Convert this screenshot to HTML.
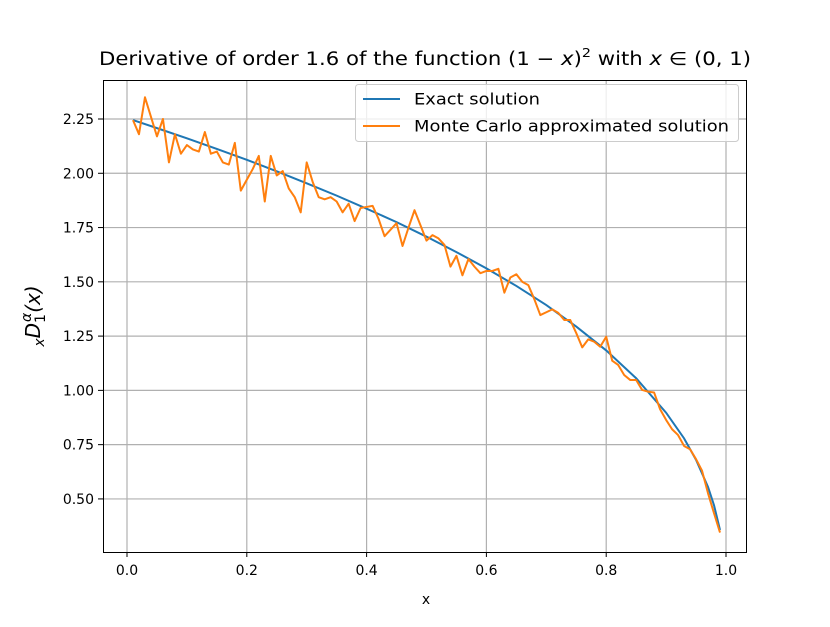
<!DOCTYPE html>
<html><head><meta charset="utf-8"><style>
body{margin:0;background:#fff;}
svg text{font-family:"DejaVu Sans","Liberation Sans",sans-serif;}
</style></head><body>
<svg width="830" height="622" viewBox="0 0 830 622" xmlns="http://www.w3.org/2000/svg">
<rect width="830" height="622" fill="#fff"/>
<g id="grid"></g>
<g id="ticks"></g>
<polyline id="exact" fill="none" stroke="#1f77b4" stroke-width="2"/>
<polyline id="mc" fill="none" stroke="#ff7f0e" stroke-width="2" stroke-linejoin="round"/>
<rect x="103.5" y="80.5" width="643" height="472" fill="none" stroke="#000" stroke-width="1"/>
<text x="425" y="65" font-size="18.5" text-anchor="middle" textLength="652" lengthAdjust="spacingAndGlyphs">Derivative of order 1.6 of the function (1 − <tspan font-style="italic">x</tspan>)<tspan font-size="12.5" dy="-8">2</tspan><tspan dy="8"> with </tspan><tspan font-style="italic">x</tspan> ∈ (0, 1)</text>
<text x="426" y="604" font-size="14" text-anchor="middle">x</text>
<text transform="translate(40,316) rotate(-90)" font-size="20" text-anchor="middle" font-style="italic"><tspan font-size="14" dy="4">x</tspan><tspan dy="-4">D</tspan><tspan font-size="14" dy="5" font-style="normal">1</tspan><tspan font-size="14" dy="-14" dx="-8">α</tspan><tspan dy="9">(x)</tspan></text>
<g>
<rect x="355.5" y="84.5" width="383" height="57" rx="3" fill="#fff" fill-opacity="0.8" stroke="#ccc"/>
<line x1="363" y1="99" x2="400" y2="99" stroke="#1f77b4" stroke-width="2"/>
<text x="414" y="104.5" font-size="16" textLength="126" lengthAdjust="spacingAndGlyphs">Exact solution</text>
<line x1="363" y1="126" x2="400" y2="126" stroke="#ff7f0e" stroke-width="2"/>
<text x="414" y="131.5" font-size="16" textLength="315" lengthAdjust="spacingAndGlyphs">Monte Carlo approximated solution</text>
</g>
</svg>
<script>
const exactX=[0.01,0.05,0.1,0.15,0.2,0.25,0.3,0.35,0.4,0.45,0.5,0.55,0.6,0.65,0.7,0.75,0.8,0.85,0.9,0.93,0.95,0.97,0.98,0.99];
const exactY=[2.245,2.208,2.161,2.112,2.062,2.009,1.954,1.897,1.837,1.775,1.708,1.637,1.562,1.481,1.393,1.294,1.184,1.056,0.897,0.779,0.680,0.555,0.471,0.357];
const mcY=[2.245,2.18,2.35,2.26,2.17,2.25,2.05,2.18,2.09,2.13,2.11,2.10,2.19,2.09,2.10,2.05,2.04,2.14,1.92,1.97,2.02,2.08,1.87,2.08,1.99,2.01,1.93,1.89,1.82,2.05,1.96,1.89,1.88,1.89,1.87,1.82,1.86,1.78,1.84,1.845,1.85,1.79,1.71,1.74,1.77,1.665,1.75,1.83,1.76,1.69,1.715,1.70,1.67,1.57,1.62,1.53,1.605,1.57,1.54,1.55,1.55,1.56,1.45,1.52,1.535,1.50,1.485,1.42,1.347,1.36,1.373,1.357,1.324,1.324,1.264,1.198,1.235,1.224,1.201,1.247,1.137,1.117,1.071,1.048,1.048,1.002,0.994,0.99,0.913,0.864,0.821,0.794,0.744,0.729,0.683,0.63,0.526,0.434,0.345];
const xTicks=[0.0,0.2,0.4,0.6,0.8,1.0];
const xTickLabels=["0.0","0.2","0.4","0.6","0.8","1.0"];
const yTicks=[0.5,0.75,1.0,1.25,1.5,1.75,2.0,2.25];
const yTickLabels=["0.50","0.75","1.00","1.25","1.50","1.75","2.00","2.25"];
const sx=x=>127+x*599;
const sy=v=>119+(2.25-v)*217.1;
const NS="http://www.w3.org/2000/svg";
const grid=document.getElementById('grid'),ticks=document.getElementById('ticks');
function mk(tag,attrs,parent){const e=document.createElementNS(NS,tag);for(const k in attrs)e.setAttribute(k,attrs[k]);parent.appendChild(e);return e;}
xTicks.forEach((t,i)=>{const x=sx(t);
 const g=mk('line',{x1:x,x2:x,y1:80,y2:552,stroke:'#b0b0b0','stroke-width':1.2},grid);
 
 
 const tk=mk('line',{x1:x,x2:x,y1:552,y2:557,stroke:'#000'},ticks);
 
 
 const tx=mk('text',{x:x,y:575,'font-size':14,'text-anchor':'middle'},ticks);tx.textContent=xTickLabels[i];
 
 
});
yTicks.forEach((t,i)=>{const y=sy(t);
 const g=mk('line',{x1:103,x2:746,y1:y,y2:y,stroke:'#b0b0b0','stroke-width':1.2},grid);
 
 
 const tk=mk('line',{x1:98,x2:103,y1:y,y2:y,stroke:'#000'},ticks);
 
 
 const tx=mk('text',{x:94,y:y+5,'font-size':14,'text-anchor':'end'},ticks);tx.textContent=yTickLabels[i];
 
 
});
document.getElementById('exact').setAttribute('points',exactX.map((x,i)=>sx(x)+','+sy(exactY[i])).join(' '));
document.getElementById('mc').setAttribute('points',mcY.map((v,i)=>sx((i+1)/100)+','+sy(v)).join(' '));
</script>
</body></html>
